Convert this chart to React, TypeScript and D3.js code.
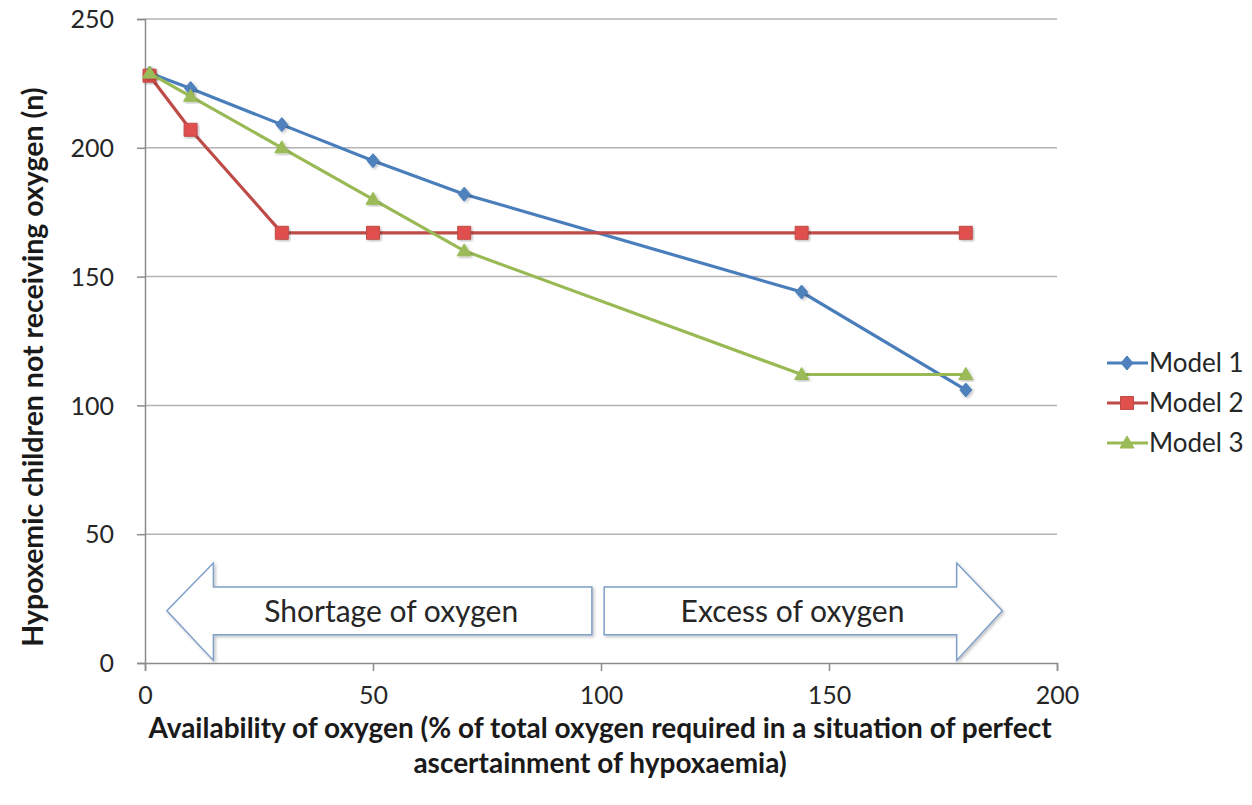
import { useEffect, useRef } from "react";
import * as d3 from "d3";

const availability = [1, 10, 30, 50, 70, 144, 180];
const model1 = [229, 223, 209, 195, 182, 144, 106];
const model2 = [228, 207, 167, 167, 167, 167, 167];
const model3 = [229, 220, 200, 180, 160, 112, 112];

const xTicks = [0, 50, 100, 150, 200];
const yTicks = [0, 50, 100, 150, 200, 250];

const SERIES = [
  { name: "Model 1", values: model1, line: "#4a7ebb", fill: "#4f81bd", shape: "diamond" },
  { name: "Model 2", values: model2, line: "#be4b48", fill: "#e0504d", shape: "square" },
  { name: "Model 3", values: model3, line: "#98b954", fill: "#9bbb59", shape: "triangle" },
];

// arrow annotations in data units
const shortageArrow = { label: "Shortage of oxygen", tail: 98, base: 15, tip: 4.8, labelX: 54 };
const excessArrow = { label: "Excess of oxygen", tail: 100.7, base: 178, tip: 188, labelX: 142 };

const FONT = "Lato, 'Open Sans', sans-serif";

function markerPath(shape: string): string {
  if (shape === "diamond") return "M0,-7L6,0L0,7L-6,0Z";
  if (shape === "square") return "M-6.5,-6.5H6.5V6.5H-6.5Z";
  return "M0,-7L7,5H-7Z";
}

export default function App() {
  const svgRef = useRef<SVGSVGElement>(null);

  useEffect(() => {
    if (!svgRef.current) return;
    const width = 1252;
    const height = 805;
    const svg = d3.select(svgRef.current);
    svg.selectAll("*").remove();
    svg.attr("width", width).attr("height", height);

    const x = d3.scaleLinear().domain([0, 200]).range([145, 1057]);
    const y = d3.scaleLinear().domain([0, 250]).range([663, 19]);

    const defs = svg.append("defs");
    const shadow = defs
      .append("filter")
      .attr("id", "soft")
      .attr("x", "-20%")
      .attr("y", "-20%")
      .attr("width", "140%")
      .attr("height", "140%");
    shadow
      .append("feDropShadow")
      .attr("dx", 1.5)
      .attr("dy", 1.5)
      .attr("stdDeviation", 1.5)
      .attr("flood-color", "#000")
      .attr("flood-opacity", 0.25);

    // gridlines
    svg
      .append("g")
      .selectAll("line")
      .data(yTicks.filter((t) => t > 0))
      .join("line")
      .attr("x1", x(0))
      .attr("x2", x(200))
      .attr("y1", (d) => y(d))
      .attr("y2", (d) => y(d))
      .attr("stroke", "#b3b3b3")
      .attr("stroke-width", 1.5);

    // arrows
    const bodyTop = 29.5;
    const bodyBottom = 11;
    const headTop = 38.8;
    const headBottom = 1;
    [shortageArrow, excessArrow].forEach((a) => {
      const pts: [number, number][] = [
        [a.tail, bodyTop],
        [a.base, bodyTop],
        [a.base, headTop],
        [a.tip, (bodyTop + bodyBottom) / 2],
        [a.base, headBottom],
        [a.base, bodyBottom],
        [a.tail, bodyBottom],
      ];
      svg
        .append("path")
        .attr("d", d3.line()(pts.map(([px, py]) => [x(px), y(py)])) + "Z")
        .attr("fill", "#fff")
        .attr("stroke", "#7f9fc9")
        .attr("stroke-width", 1.5)
        .attr("filter", "url(#soft)");
      svg
        .append("text")
        .attr("x", x(a.labelX))
        .attr("y", y((bodyTop + bodyBottom) / 2) + 11)
        .attr("text-anchor", "middle")
        .attr("font-family", FONT)
        .attr("font-size", 30)
        .attr("fill", "#262626")
        .text(a.label);
    });

    // axes
    const axisColor = "#8c8c8c";
    const xAxis = svg
      .append("g")
      .attr("transform", `translate(0,${y(0)})`)
      .call(d3.axisBottom(x).tickValues(xTicks).tickSize(8).tickPadding(15));
    const yAxis = svg
      .append("g")
      .attr("transform", `translate(${x(0)},0)`)
      .call(d3.axisLeft(y).tickValues(yTicks).tickSize(8).tickPadding(23));
    [xAxis, yAxis].forEach((ax) => {
      ax.select(".domain").attr("stroke", axisColor).attr("stroke-width", 1.5);
      ax.selectAll(".tick line").attr("stroke", axisColor).attr("stroke-width", 1.5);
      ax.selectAll(".tick text")
        .attr("font-family", FONT)
        .attr("font-size", 25)
        .attr("fill", "#262626");
    });
    yAxis.selectAll(".tick text").attr("dy", "0.35em");

    // series
    SERIES.forEach((s) => {
      const pts = availability.map((v, i) => [x(v), y(s.values[i])] as [number, number]);
      svg
        .append("path")
        .attr("d", d3.line()(pts))
        .attr("fill", "none")
        .attr("stroke", s.line)
        .attr("stroke-width", 3.2);
      svg
        .append("g")
        .selectAll("path")
        .data(pts)
        .join("path")
        .attr("d", markerPath(s.shape))
        .attr("transform", (d) => `translate(${d[0]},${d[1]})`)
        .attr("fill", s.fill)
        .attr("stroke", s.line)
        .attr("stroke-width", 1)
        .attr("filter", "url(#soft)");
    });

    // legend
    const legend = svg.append("g").attr("transform", "translate(1107,363)");
    SERIES.forEach((s, i) => {
      const row = legend.append("g").attr("transform", `translate(0,${i * 40})`);
      row
        .append("line")
        .attr("x1", 0)
        .attr("x2", 41)
        .attr("stroke", s.line)
        .attr("stroke-width", 3.2);
      row
        .append("path")
        .attr("d", markerPath(s.shape))
        .attr("transform", "translate(20,0)")
        .attr("fill", s.fill)
        .attr("stroke", s.line)
        .attr("stroke-width", 1);
      row
        .append("text")
        .attr("x", 42)
        .attr("y", 9)
        .attr("font-family", FONT)
        .attr("font-size", 26)
        .attr("fill", "#262626")
        .text(s.name);
    });

    // axis titles
    const xTitle = svg
      .append("text")
      .attr("text-anchor", "middle")
      .attr("font-family", FONT)
      .attr("font-weight", "bold")
      .attr("font-size", 28)
      .attr("fill", "#1a1a1a");
    xTitle
      .append("tspan")
      .attr("x", 600)
      .attr("y", 738)
      .text("Availability of oxygen (% of total oxygen required in a situation of perfect");
    xTitle.append("tspan").attr("x", 600).attr("y", 773).text("ascertainment of hypoxaemia)");

    svg
      .append("text")
      .attr("transform", "translate(43,367) rotate(-90)")
      .attr("text-anchor", "middle")
      .attr("font-family", FONT)
      .attr("font-weight", "bold")
      .attr("font-size", 28.5)
      .attr("fill", "#1a1a1a")
      .text("Hypoxemic children not receiving oxygen (n)");
  }, []);

  return (
    <svg
      ref={svgRef}
      style={{ position: "absolute", left: 0, top: 0, background: "#fff" }}
    />
  );
}
